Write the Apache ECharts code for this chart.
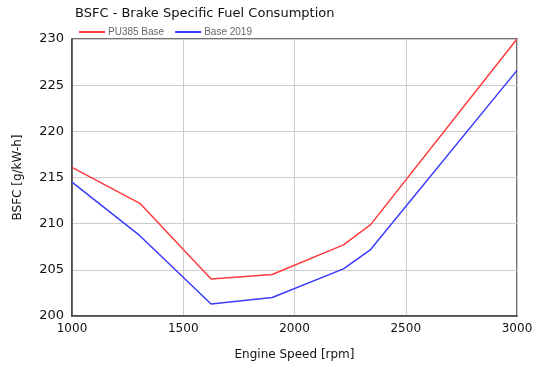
<!DOCTYPE html>
<html><head><meta charset="utf-8">
<script src="https://cdn.jsdelivr.net/npm/echarts@6/dist/echarts.min.js"></script>
<style>html,body{margin:0;padding:0;background:#fff}#c{width:542px;height:371px}</style>
</head><body><div id="c"></div>
<script>
var speeds = [1000, 1305, 1625, 1900, 2220, 2342, 3000];
var pu385Base = [216.1, 212.2, 204.0, 204.5, 207.7, 209.9, 230.0];
var base2019 = [214.5, 208.7, 201.3, 202.0, 205.1, 207.2, 226.6];
var seriesNames = ['PU385 Base', 'Base 2019'];
var titleText = 'BSFC - Brake Specific Fuel Consumption';
var xName = 'Engine Speed [rpm]';
var yName = 'BSFC [g/kW-h]';

function pairs(xs, ys) { return xs.map(function (x, i) { return [x, ys[i]]; }); }

var chart = echarts.init(document.getElementById('c'));
var font = 'DejaVu Sans';
chart.setOption({
  animation: false,
  title: { text: titleText, left: 70, top: 2, textStyle: { fontFamily: font, fontSize: 13, fontWeight: 'normal', color: '#111' } },
  legend: {
    left: 73, top: 22, itemWidth: 26, itemHeight: 2, itemGap: 10,
    textStyle: { fontFamily: 'Liberation Sans', fontSize: 10, color: '#666', padding: [0, 0, 0, -2] },
    data: seriesNames
  },
  grid: { left: 72, right: 25, top: 39, bottom: 55, show: true, borderColor: '#444', borderWidth: 1.5 },
  xAxis: {
    type: 'value', min: 1000, max: 3000, interval: 500,
    name: xName, nameLocation: 'middle', nameGap: 33,
    nameTextStyle: { fontFamily: font, fontSize: 12, color: '#111' },
    axisLine: { show: true, lineStyle: { color: '#444', width: 1.5 } }, axisTick: { show: false },
    axisLabel: { fontFamily: font, fontSize: 12, color: '#111', margin: 7, formatter: function (v) { return String(v); } },
    splitLine: { lineStyle: { color: '#ccc', width: 1 } }
  },
  yAxis: {
    type: 'value', min: 200, max: 230, interval: 5,
    name: yName, nameLocation: 'middle', nameGap: 48,
    nameTextStyle: { fontFamily: font, fontSize: 12, color: '#111' },
    axisLine: { show: true, lineStyle: { color: '#444', width: 1.5 } }, axisTick: { show: false },
    axisLabel: { fontFamily: font, fontSize: 13, color: '#111', margin: 8 },
    splitLine: { lineStyle: { color: '#ccc', width: 1 } }
  },
  series: [
    { name: seriesNames[0], type: 'line', data: pairs(speeds, pu385Base), symbol: 'none', lineStyle: { color: '#ff3b3b', width: 1.5 }, itemStyle: { color: '#ff3b3b' } },
    { name: seriesNames[1], type: 'line', data: pairs(speeds, base2019), symbol: 'none', lineStyle: { color: '#3b3bff', width: 1.5 }, itemStyle: { color: '#3b3bff' } }
  ]
});
</script></body></html>
